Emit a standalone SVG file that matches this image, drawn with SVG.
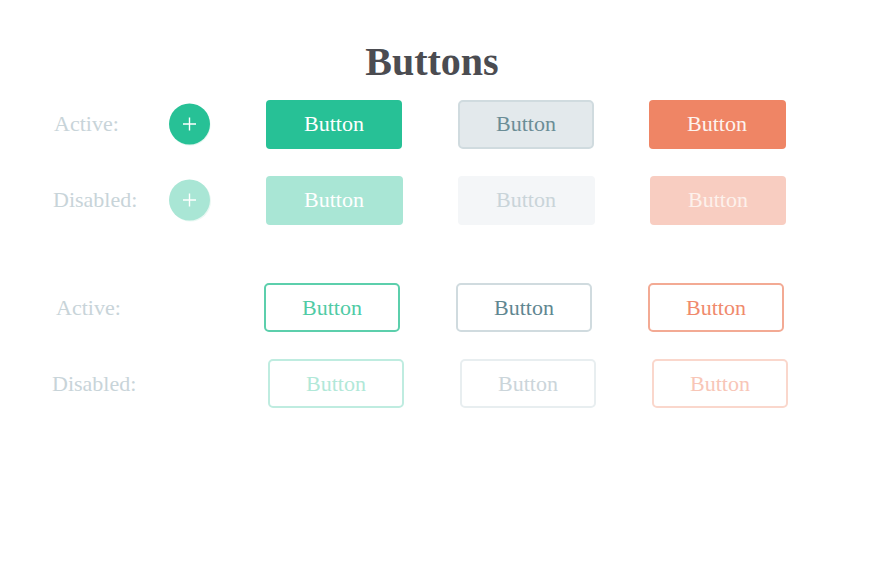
<svg xmlns="http://www.w3.org/2000/svg" width="890" height="581" viewBox="0 0 890 581">
<style>
text{font-family:"Liberation Serif","Times New Roman",serif}
.lbl{font-size:22px;fill:#c8d4d9}
.bt{font-size:22px;text-anchor:middle}
.title{font-size:40px;font-weight:bold;fill:#4b4c51;text-anchor:middle}
.plus{stroke:#fff;stroke-width:1.4;fill:none}
</style>
<rect width="890" height="581" fill="#fff"/>
<text class="title" x="432" y="75">Buttons</text>
<g id="labels">
<text class="lbl" x="54" y="131">Active:</text>
<text class="lbl" x="53" y="207">Disabled:</text>
<text class="lbl" x="56" y="315">Active:</text>
<text class="lbl" x="52" y="391">Disabled:</text>
</g>
<g id="fab-active">
<circle cx="190" cy="125" r="20.5" fill="#e0f5ee"/>
<circle cx="189.5" cy="124" r="20.5" fill="#27c196"/>
<path class="plus" d="M183 124H196M189.5 117.5V130.5"/>
</g>
<g id="fab-disabled">
<circle cx="190.5" cy="201" r="20.5" fill="#eaf8f3"/>
<circle cx="189.5" cy="200" r="20.5" fill="#a9e6d5"/>
<path class="plus" d="M183 200H196M189.5 193.5V206.5"/>
</g>
<g id="btn-primary">
<rect x="266" y="100" width="136" height="49" rx="4" fill="#27c196"/>
<text class="bt" x="334" y="131" fill="#fff">Button</text>
</g>
<g id="btn-default">
<rect x="459" y="101" width="134" height="47" rx="4" fill="#e3e9ec" stroke="#d0dbdf" stroke-width="2"/>
<text class="bt" x="526" y="131" fill="#6b8d96">Button</text>
</g>
<g id="btn-danger">
<rect x="649" y="100" width="137" height="49" rx="4" fill="#ef8565"/>
<text class="bt" x="717" y="131" fill="#fdf3ef">Button</text>
</g>
<g id="btn-primary-disabled">
<rect x="266" y="176" width="137" height="49" rx="4" fill="#a9e6d5"/>
<text class="bt" x="334" y="207" fill="#fff">Button</text>
</g>
<g id="btn-default-disabled">
<rect x="458" y="176" width="137" height="49" rx="4" fill="#f4f6f8"/>
<text class="bt" x="526" y="207" fill="#c9d4d9">Button</text>
</g>
<g id="btn-danger-disabled">
<rect x="650" y="176" width="136" height="49" rx="4" fill="#f8cdc1"/>
<text class="bt" x="718" y="207" fill="#fdf1ec">Button</text>
</g>
<g id="outline-primary">
<rect x="265" y="284" width="134" height="47" rx="4" fill="none" stroke="#5ccfac" stroke-width="2"/>
<text class="bt" x="332" y="315" fill="#4fcba5">Button</text>
</g>
<g id="outline-default">
<rect x="457" y="284" width="134" height="47" rx="4" fill="none" stroke="#d0dbdf" stroke-width="2"/>
<text class="bt" x="524" y="315" fill="#5f8791">Button</text>
</g>
<g id="outline-danger">
<rect x="649" y="284" width="134" height="47" rx="4" fill="none" stroke="#f3aa94" stroke-width="2"/>
<text class="bt" x="716" y="315" fill="#f08a6c">Button</text>
</g>
<g id="outline-primary-disabled">
<rect x="269" y="360" width="134" height="47" rx="4" fill="none" stroke="#bfece0" stroke-width="2"/>
<text class="bt" x="336" y="391" fill="#b1e8d8">Button</text>
</g>
<g id="outline-default-disabled">
<rect x="461" y="360" width="134" height="47" rx="4" fill="none" stroke="#e8eef0" stroke-width="2"/>
<text class="bt" x="528" y="391" fill="#cbd5da">Button</text>
</g>
<g id="outline-danger-disabled">
<rect x="653" y="360" width="134" height="47" rx="4" fill="none" stroke="#fad7cc" stroke-width="2"/>
<text class="bt" x="720" y="391" fill="#f8c6b7">Button</text>
</g>
<g id="connectors"/>
</svg>
